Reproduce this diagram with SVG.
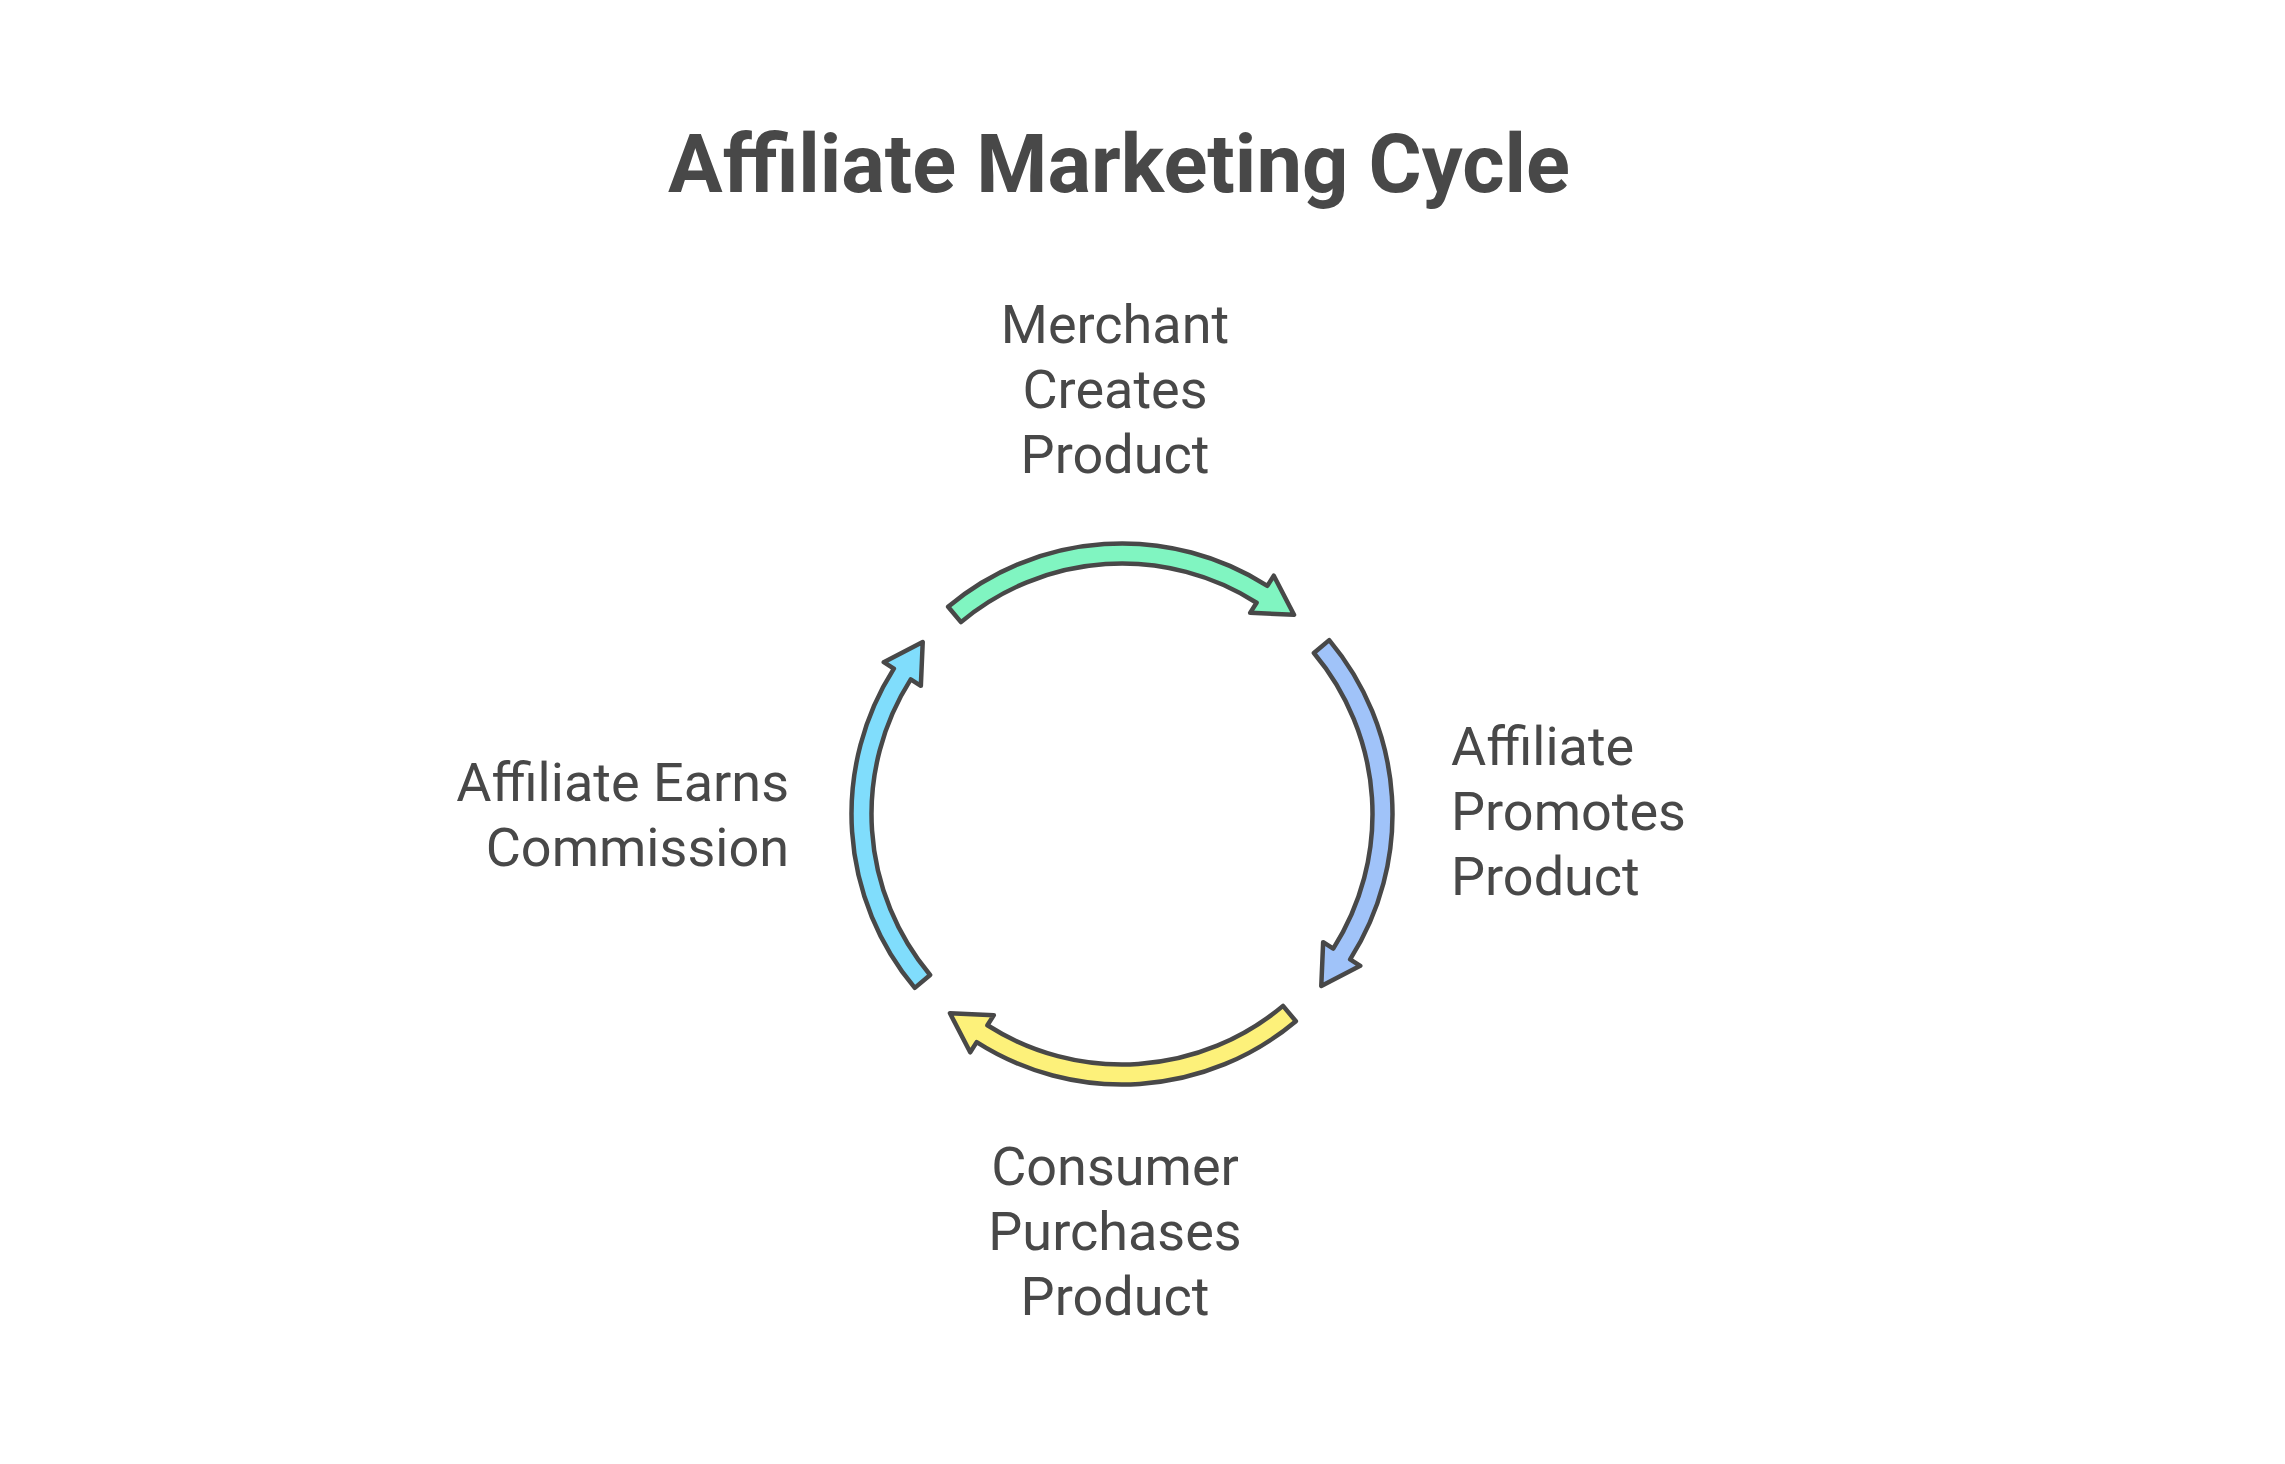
<svg xmlns="http://www.w3.org/2000/svg" width="2285" height="1464" viewBox="0 0 2285 1464">
  <style>
    .lbl { font-family: Roboto, "Liberation Sans", sans-serif; font-size: 54px; fill: #484848; }
    .title { font-family: Roboto, "Liberation Sans", sans-serif; font-size: 81.3px; font-weight: bold; fill: #484848; }
    .arr { stroke: #484848; stroke-width: 4.5; stroke-linejoin: round; }
  </style>
  <defs>
    <path id="arrowShape" d="M948.13,606.79 A270.5,270.5 0 0 1 1267.34,585.86 L1273.79,575.74 L1294.02,614.72 L1250.15,612.85 L1256.59,602.73 A250.5,250.5 0 0 0 960.98,622.11 Z"/>
  </defs>
  <rect width="2285" height="1464" fill="#ffffff"/>
  <text class="title" x="1119" y="192" text-anchor="middle">Affiliate Marketing Cycle</text>
  <g id="connectors">
    <use href="#arrowShape" class="arr" fill="#80F5C1"/>
    <use href="#arrowShape" class="arr" fill="#A0C3F9" transform="rotate(90 1122 814)"/>
    <use href="#arrowShape" class="arr" fill="#FDF17A" transform="rotate(180 1122 814)"/>
    <use href="#arrowShape" class="arr" fill="#80DDFC" transform="rotate(270 1122 814)"/>
  </g>
  <g id="node-merchant">
    <text class="lbl" x="1115" y="343" text-anchor="middle">Merchant</text>
    <text class="lbl" x="1115" y="408" text-anchor="middle">Creates</text>
    <text class="lbl" x="1115" y="473" text-anchor="middle">Product</text>
  </g>
  <g id="node-affiliate-promotes">
    <text class="lbl" x="1451" y="765">Affiliate</text>
    <text class="lbl" x="1451" y="830">Promotes</text>
    <text class="lbl" x="1451" y="895">Product</text>
  </g>
  <g id="node-consumer">
    <text class="lbl" x="1115" y="1185" text-anchor="middle">Consumer</text>
    <text class="lbl" x="1115" y="1250" text-anchor="middle">Purchases</text>
    <text class="lbl" x="1115" y="1315" text-anchor="middle">Product</text>
  </g>
  <g id="node-commission">
    <text class="lbl" x="789" y="801" text-anchor="end">Affiliate Earns</text>
    <text class="lbl" x="789" y="866" text-anchor="end">Commission</text>
  </g>
</svg>
